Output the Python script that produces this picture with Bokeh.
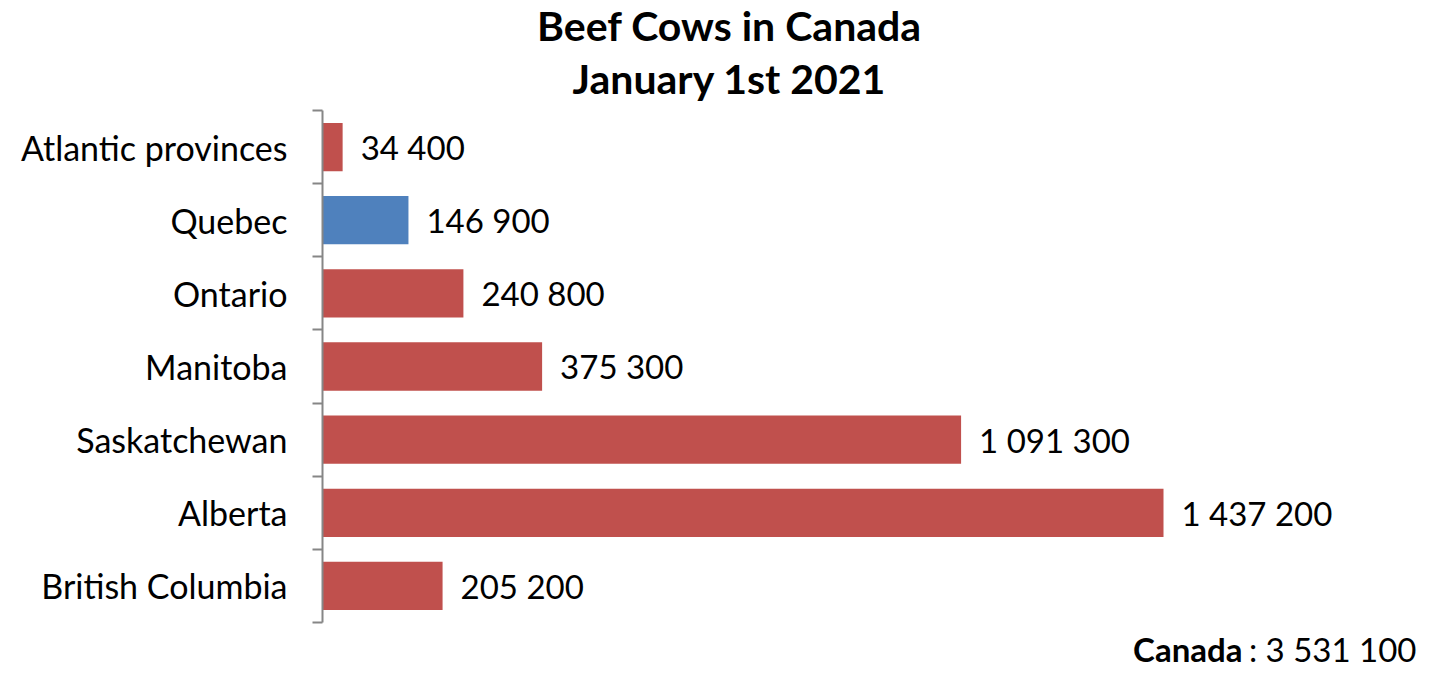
from bokeh.plotting import figure
from bokeh.models import Range1d, FixedTicker, ColumnDataSource, Label
from bokeh.embed import file_html
from bokeh.resources import INLINE
from bokeh.core.properties import value

regions = ["Atlantic provinces", "Quebec", "Ontario", "Manitoba",
           "Saskatchewan", "Alberta", "British Columbia"]
cows = [34400, 146900, 240800, 375300, 1091300, 1437200, 205200]
bar_colors = ["#C0504D", "#4F81BD", "#C0504D", "#C0504D", "#C0504D", "#C0504D", "#C0504D"]
total_label = "3 531 100"
title_lines = ["Beef Cows in Canada", "January 1st 2021"]

FONT = "Lato"
n = len(regions)
ypos = list(range(n))
labels = [f"{v:,}".replace(",", " ") for v in cows]

src = ColumnDataSource(dict(y=ypos, v=cows, c=bar_colors, lab=labels))

W, H = 1418, 672
LEFT, TOP_CAT, ROW = 322, 110, 73.14
y_top = -0.5 - TOP_CAT / ROW
y_bot = y_top + H / ROW

p = figure(width=W, height=H, output_backend="svg", toolbar_location=None,
           x_range=Range1d(0, (W - LEFT) * 1437200 / 841), y_range=Range1d(y_bot, y_top),
           min_border_left=LEFT, min_border_right=0, min_border_top=0,
           min_border_bottom=0)
p.outline_line_color = None
p.xgrid.visible = False
p.ygrid.visible = False
p.xaxis.visible = False

p.hbar(y="y", right="v", left=0, height=0.66, color="c", line_color=None, source=src)
p.text(x="v", y="y", text="lab", source=src, x_offset=18, text_baseline="middle",
       text_align="left", text_font=value(FONT), text_font_size="33px", text_color="black")

ax = p.yaxis[0]
ax.bounds = (-0.5, n - 0.5)
ax.ticker = FixedTicker(ticks=ypos, minor_ticks=[i - 0.5 for i in range(n + 1)])
ax.major_label_overrides = {i: r for i, r in enumerate(regions)}
ax.major_tick_line_color = None
ax.major_tick_out = 0
ax.major_tick_in = 0
ax.minor_tick_line_color = "#868686"
ax.minor_tick_line_width = 2
ax.minor_tick_out = 10
ax.minor_tick_in = 0
ax.axis_line_color = "#868686"
ax.axis_line_width = 2
ax.major_label_standoff = 25
ax.major_label_text_font = FONT
ax.major_label_text_font_size = "34px"
ax.major_label_text_color = "black"

for i, t in enumerate(title_lines):
    p.add_layout(Label(x=407, y=H - 25 - 53 * i, x_units="screen", y_units="screen", text=t,
                       text_align="center", text_baseline="middle", text_font=FONT,
                       text_font_style="bold", text_font_size="41px", text_color="black"))

p.add_layout(Label(x=920, y=24, x_units="screen", y_units="screen", text="Canada",
                   text_align="right", text_baseline="middle", text_font=FONT,
                   text_font_style="bold", text_font_size="33px", text_color="black"))
p.add_layout(Label(x=1094, y=24, x_units="screen", y_units="screen", text=": " + total_label,
                   text_align="right", text_baseline="middle", text_font=FONT,
                   text_font_size="33px", text_color="black"))

open("out.html", "w").write(file_html(p, INLINE))
